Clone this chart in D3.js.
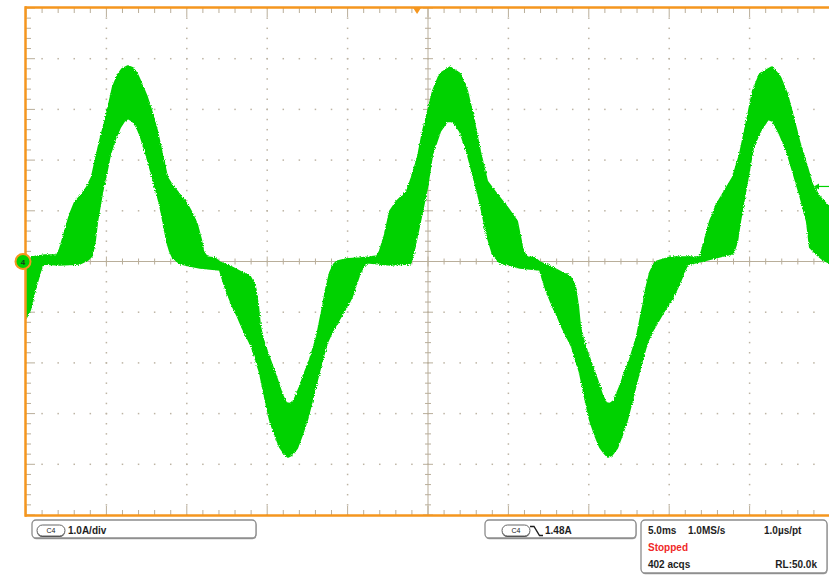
<!DOCTYPE html>
<html>
<head>
<meta charset="utf-8">
<script src="https://cdn.jsdelivr.net/npm/d3@7"></script>
<style>
    body { margin: 0; background: #ffffff; }
    svg { display: block; font-family: "Liberation Sans", Arial, sans-serif; }
</style>
</head>
<body>
<svg id="scope" width="829" height="575"></svg>
<script>
// impostazioni dell'oscilloscopio
const timePerDiv = 5;      // ms/div
const ampPerDiv = 1;       // A/div
const timeRange = [-25, 25];
const ampRange = [-5, 5];
const triggerTime = -0.68;  // ms, marker arancione in alto
const triggerLevel = 1.48;  // A, freccia verde a destra

// inviluppo della traccia C4 (bordo superiore e inferiore), [ms, A]
const upperEdge = [
    [-25.0, -0.08], [-24.63, 0.08], [-23.82, 0.12], [-23.07, 0.12], [-22.89, 0.24], [-22.57, 0.59],
    [-22.26, 0.93], [-21.95, 1.17], [-21.52, 1.32], [-21.21, 1.46], [-20.90, 1.66], [-20.65, 2.02],
    [-20.40, 2.37], [-19.96, 2.91], [-19.59, 3.44], [-19.28, 3.68], [-19.03, 3.79], [-18.66, 3.85],
    [-18.35, 3.81], [-18.10, 3.70], [-17.79, 3.48], [-17.48, 3.24], [-17.16, 2.92], [-16.85, 2.57],
    [-16.54, 2.11], [-16.23, 1.66], [-15.92, 1.50], [-15.61, 1.38], [-15.30, 1.26], [-14.99, 1.13],
    [-14.68, 0.95], [-14.37, 0.73], [-14.12, 0.43], [-13.99, 0.20], [-13.74, 0.08], [-13.25, 0.06],
    [-12.94, -0.02], [-12.31, -0.10], [-11.69, -0.20], [-11.07, -0.30], [-10.76, -0.49], [-10.57, -0.89],
    [-10.45, -1.28], [-10.26, -1.54], [-10.01, -1.78], [-9.83, -1.94], [-9.39, -2.33], [-9.08, -2.63],
    [-8.83, -2.79], [-8.58, -2.81], [-8.33, -2.75], [-7.96, -2.47], [-7.65, -2.19], [-7.34, -1.94],
    [-7.09, -1.68], [-6.90, -1.48], [-6.72, -1.19], [-6.53, -0.89], [-6.34, -0.55], [-6.09, -0.22],
    [-5.85, -0.06], [-5.66, 0.00], [-5.16, 0.04], [-4.23, 0.06], [-3.61, 0.08], [-3.17, 0.10],
    [-2.99, 0.20], [-2.67, 0.53], [-2.36, 0.99], [-1.93, 1.19], [-1.31, 1.38], [-1.00, 1.66],
    [-0.62, 2.06], [-0.31, 2.57], [0.00, 2.96], [0.31, 3.36], [0.75, 3.70], [1.37, 3.83],
    [1.99, 3.70], [2.43, 3.36], [2.80, 2.85], [3.23, 2.17], [3.67, 1.58], [4.29, 1.32],
    [4.91, 1.07], [5.53, 0.79], [5.91, 0.20], [6.16, 0.08], [6.65, 0.06], [6.97, -0.02],
    [7.59, -0.10], [8.21, -0.20], [8.83, -0.30], [9.14, -0.49], [9.33, -0.89], [9.45, -1.28],
    [9.64, -1.54], [9.89, -1.78], [10.07, -1.94], [10.51, -2.33], [10.82, -2.63], [11.07, -2.79],
    [11.32, -2.81], [11.57, -2.75], [11.94, -2.47], [12.25, -2.19], [12.56, -1.94], [12.81, -1.68],
    [13.00, -1.48], [13.18, -1.19], [13.37, -0.89], [13.56, -0.55], [13.81, -0.22], [14.05, -0.06],
    [14.24, 0.00], [15.05, 0.08], [16.92, 0.08], [17.10, 0.28], [17.54, 0.79], [17.97, 1.13],
    [18.59, 1.46], [18.97, 1.66], [19.40, 2.11], [19.84, 2.77], [20.21, 3.36], [20.65, 3.70],
    [21.39, 3.83], [21.89, 3.64], [22.33, 3.30], [22.70, 2.85], [23.13, 2.31], [23.57, 1.86],
    [23.88, 1.52], [24.38, 1.26], [24.94, 1.07]
];

const lowerEdge = [
    [-25.0, -1.11], [-24.75, -0.95], [-24.44, -0.55], [-24.13, -0.20], [-23.94, -0.04], [-22.89, -0.06],
    [-21.64, -0.04], [-21.14, 0.04], [-20.90, 0.12], [-20.71, 0.43], [-20.58, 0.79], [-20.40, 1.13],
    [-20.21, 1.46], [-19.96, 1.82], [-19.78, 2.11], [-19.47, 2.41], [-19.15, 2.65], [-18.91, 2.77],
    [-18.66, 2.83], [-18.35, 2.77], [-18.10, 2.65], [-17.91, 2.51], [-17.60, 2.21], [-17.29, 1.86],
    [-16.98, 1.50], [-16.67, 1.13], [-16.42, 0.73], [-16.23, 0.40], [-16.04, 0.20], [-15.86, 0.08],
    [-15.42, -0.04], [-14.80, -0.08], [-14.18, -0.12], [-13.56, -0.14], [-12.94, -0.16], [-12.75, -0.36],
    [-12.62, -0.49], [-12.38, -0.69], [-12.13, -0.89], [-11.82, -1.09], [-11.57, -1.28], [-11.26, -1.48],
    [-10.95, -1.68], [-10.70, -1.94], [-10.45, -2.19], [-10.14, -2.67], [-9.83, -3.12], [-9.51, -3.42],
    [-9.20, -3.66], [-8.96, -3.77], [-8.71, -3.85], [-8.46, -3.81], [-8.15, -3.68], [-7.84, -3.42],
    [-7.52, -3.12], [-7.21, -2.73], [-6.90, -2.33], [-6.59, -1.94], [-6.28, -1.60], [-5.97, -1.38],
    [-5.66, -1.21], [-5.29, -1.01], [-4.98, -0.85], [-4.73, -0.69], [-4.48, -0.45], [-4.23, -0.22],
    [-3.98, -0.08], [-3.79, -0.02], [-2.36, -0.06], [-1.12, -0.04], [-0.93, 0.14], [-0.50, 0.79],
    [-0.06, 1.46], [0.25, 2.11], [0.75, 2.57], [1.18, 2.77], [1.55, 2.77], [1.99, 2.57],
    [2.43, 2.17], [2.80, 1.72], [3.23, 1.19], [3.67, 0.53], [4.04, 0.14], [4.48, -0.02],
    [5.72, -0.12], [6.97, -0.16], [7.15, -0.36], [7.28, -0.49], [7.52, -0.69], [7.77, -0.89],
    [8.08, -1.09], [8.33, -1.28], [8.64, -1.48], [8.96, -1.68], [9.20, -1.94], [9.45, -2.19],
    [9.76, -2.67], [10.07, -3.12], [10.39, -3.42], [10.70, -3.66], [10.95, -3.77], [11.19, -3.85],
    [11.44, -3.81], [11.75, -3.68], [12.06, -3.42], [12.38, -3.12], [12.69, -2.73], [13.00, -2.33],
    [13.31, -1.94], [13.62, -1.60], [13.93, -1.38], [14.24, -1.21], [14.61, -1.01], [14.93, -0.85],
    [15.24, -0.69], [15.55, -0.49], [15.86, -0.26], [16.11, -0.06], [16.92, 0.00], [18.16, 0.10],
    [18.97, 0.16], [19.22, 0.40], [19.40, 0.79], [19.84, 1.58], [20.21, 2.25], [20.65, 2.57],
    [21.14, 2.81], [21.46, 2.77], [21.89, 2.51], [22.33, 2.17], [22.70, 1.78], [23.13, 1.32],
    [23.57, 0.79], [23.76, 0.28], [24.19, 0.14], [24.56, 0.04], [24.94, -0.02]
];

// testi della barra di stato
const channelName = 'C4';
const scaleText = '1.0A/div';
const trigText = '1.48A';
const timebaseTexts = ['5.0ms', '1.0MS/s', '1.0\u00b5s/pt'];
const stateText = 'Stopped';
const acqText = '402 acqs';
const recordText = 'RL:50.0k';

const orange = '#f5961e';
const green = '#00d200';
const gridCol = '#b9ae9a';

const svg = d3.select('#scope');

// area del reticolo
const plot = { left: 26, top: 8, right: 830, bottom: 515 };
const x = d3.scaleLinear().domain(timeRange).range([plot.left, plot.right]);
const y = d3.scaleLinear().domain(ampRange).range([plot.bottom, plot.top]);

const xMajor = d3.range(timeRange[0], timeRange[1] + 0.01, timePerDiv);
const xMinor = d3.range(0, 51).map((i) => timeRange[0] + (i * timePerDiv) / 5);
const yMajor = d3.range(ampRange[0], ampRange[1] + 0.01, ampPerDiv);
const yMinor = d3.range(0, 51).map((i) => ampRange[0] + (i * ampPerDiv) / 5);

svg.append('rect').attr('x', plot.left).attr('y', plot.top)
    .attr('width', plot.right - plot.left).attr('height', plot.bottom - plot.top)
    .attr('fill', '#ffffff');

// ----- GRIGLIA A PUNTINI -----
const dots = svg.append('g').attr('fill', '#bdb4a4');
for (let t of xMajor) {
    if (t === 0 || t === timeRange[0] || t === timeRange[1]) continue;
    for (let a of yMinor) {
        dots.append('rect').attr('x', x(t) - 0.75).attr('y', y(a) - 0.75).attr('width', 1.5).attr('height', 1.5);
    }
}
for (let a of yMajor) {
    if (a === 0 || a === ampRange[0] || a === ampRange[1]) continue;
    for (let t of xMinor) {
        dots.append('rect').attr('x', x(t) - 0.75).attr('y', y(a) - 0.75).attr('width', 1.5).attr('height', 1.5);
    }
}

// ----- ASSI CENTRALI CON TACCHE -----
const axes = svg.append('g').attr('stroke', gridCol).attr('stroke-width', 1);
axes.append('line').attr('x1', plot.left).attr('x2', plot.right).attr('y1', y(0)).attr('y2', y(0));
axes.append('line').attr('x1', x(0)).attr('x2', x(0)).attr('y1', plot.top).attr('y2', plot.bottom);

const isMajorT = (t) => Math.abs(t / timePerDiv - Math.round(t / timePerDiv)) < 1e-6;
const isMajorA = (a) => Math.abs(a / ampPerDiv - Math.round(a / ampPerDiv)) < 1e-6;

axes.selectAll('.tx').data(xMinor).join('line')
    .attr('x1', (d) => x(d)).attr('x2', (d) => x(d))
    .attr('y1', (d) => y(0) - (isMajorT(d) ? 5 : 3))
    .attr('y2', (d) => y(0) + (isMajorT(d) ? 5 : 3));
axes.selectAll('.ty').data(yMinor).join('line')
    .attr('y1', (d) => y(d)).attr('y2', (d) => y(d))
    .attr('x1', (d) => x(0) - (isMajorA(d) ? 5 : 3))
    .attr('x2', (d) => x(0) + (isMajorA(d) ? 5 : 3));

// tacche sul bordo
const edge = svg.append('g').attr('stroke', gridCol).attr('stroke-width', 1);
edge.selectAll('.top').data(xMinor).join('line')
    .attr('x1', (d) => x(d)).attr('x2', (d) => x(d))
    .attr('y1', plot.top).attr('y2', (d) => plot.top + (isMajorT(d) ? 9 : 5));
edge.selectAll('.bot').data(xMinor).join('line')
    .attr('x1', (d) => x(d)).attr('x2', (d) => x(d))
    .attr('y1', plot.bottom).attr('y2', (d) => plot.bottom - (isMajorT(d) ? 9 : 5));
edge.selectAll('.lft').data(yMinor).join('line')
    .attr('y1', (d) => y(d)).attr('y2', (d) => y(d))
    .attr('x1', plot.left).attr('x2', (d) => plot.left + (isMajorA(d) ? 9 : 5));

// ----- TRACCIA -----
const defs = svg.append('defs');
const filt = defs.append('filter').attr('id', 'rough')
    .attr('x', '-5%').attr('y', '-5%').attr('width', '110%').attr('height', '110%');
filt.append('feTurbulence').attr('type', 'fractalNoise').attr('baseFrequency', 0.9)
    .attr('numOctaves', 1).attr('seed', 3).attr('result', 'n');
filt.append('feDisplacementMap').attr('in', 'SourceGraphic').attr('in2', 'n')
    .attr('scale', 3.5).attr('xChannelSelector', 'R').attr('yChannelSelector', 'G');

defs.append('clipPath').attr('id', 'clipPlot').append('rect')
    .attr('x', plot.left).attr('y', plot.top)
    .attr('width', plot.right - plot.left).attr('height', plot.bottom - plot.top);

const outline = upperEdge.concat(lowerEdge.slice().reverse());
const band = d3.line().x((d) => x(d[0])).y((d) => y(d[1]));

svg.append('g').attr('clip-path', 'url(#clipPlot)')
    .append('path')
    .attr('d', band(outline) + 'Z')
    .attr('fill', green)
    .attr('stroke', green)
    .attr('stroke-width', 2.2)
    .attr('stroke-linejoin', 'round')
    .attr('filter', 'url(#rough)');

// ----- CORNICE -----
const frame = svg.append('g').attr('stroke', orange).attr('stroke-width', 2.5).attr('fill', 'none');
frame.append('line').attr('x1', plot.left - 1).attr('x2', 829).attr('y1', plot.top - 0.5).attr('y2', plot.top - 0.5);
frame.append('line').attr('x1', plot.left - 1).attr('x2', 829).attr('y1', plot.bottom + 0.5).attr('y2', plot.bottom + 0.5);
frame.append('line').attr('x1', plot.left - 0.5).attr('x2', plot.left - 0.5).attr('y1', plot.top - 1.7).attr('y2', plot.bottom + 1.7);

// marker di trigger in alto
const tx = x(triggerTime);
svg.append('path')
    .attr('d', `M${tx - 4.5},${plot.top - 1} L${tx + 4.5},${plot.top - 1} L${tx},${plot.top + 6} Z`)
    .attr('fill', orange);

// livello di trigger a destra
const ty = y(triggerLevel);
svg.append('line').attr('x1', 817).attr('x2', 829).attr('y1', ty).attr('y2', ty)
    .attr('stroke', green).attr('stroke-width', 1.2);
svg.append('path')
    .attr('d', `M814,${ty} L819,${ty - 3} L819,${ty + 3} Z`)
    .attr('fill', green);

// marker di massa del canale 4
const gy = y(0);
svg.append('circle').attr('cx', 23).attr('cy', gy).attr('r', 7.5)
    .attr('fill', green).attr('stroke', orange).attr('stroke-width', 2);
svg.append('text').attr('x', 23).attr('y', gy + 3).attr('text-anchor', 'middle')
    .attr('font-size', 8).attr('font-weight', 'bold').attr('fill', '#1a3a1a').text('4');

// ----- BARRA DI STATO -----
function box(x0, y0, w, h) {
    svg.append('rect').attr('x', x0 + 0.5).attr('y', y0 + 1.2).attr('width', w).attr('height', h)
        .attr('rx', 4).attr('fill', '#9a9a9a');
    svg.append('rect').attr('x', x0).attr('y', y0).attr('width', w).attr('height', h)
        .attr('rx', 4).attr('fill', '#ffffff').attr('stroke', '#8c8c8c').attr('stroke-width', 1.3);
}
function pill(x0, y0) {
    svg.append('rect').attr('x', x0).attr('y', y0 + 1).attr('width', 28).attr('height', 11)
        .attr('rx', 5.5).attr('fill', '#555');
    svg.append('rect').attr('x', x0).attr('y', y0).attr('width', 28).attr('height', 11)
        .attr('rx', 5.5).attr('fill', '#ffffff').attr('stroke', '#555').attr('stroke-width', 0.9);
    svg.append('text').attr('x', x0 + 14).attr('y', y0 + 8.2).attr('text-anchor', 'middle')
        .attr('font-size', 7).attr('fill', '#222').text(channelName);
}

const lbl = (xx, yy, txt, col) =>
    svg.append('text').attr('x', xx).attr('y', yy).attr('font-size', 10).attr('font-weight', 'bold')
        .attr('fill', col || '#1e1e1e').text(txt);

box(32, 520, 224, 18);
pill(37, 525);
lbl(68, 534, scaleText);

box(485, 520, 151, 18);
pill(502, 525);
svg.append('path').attr('d', 'M530,526.5 L534,526.5 L539.5,535.5 L543,535.5')
    .attr('fill', 'none').attr('stroke', '#1e1e1e').attr('stroke-width', 1.4);
lbl(545, 534, trigText);

box(641, 520, 186, 53);
lbl(648, 534, timebaseTexts[0]);
lbl(688, 534, timebaseTexts[1]);
lbl(764, 534, timebaseTexts[2]);
lbl(648, 551, stateText, '#f02828');
lbl(648, 568, acqText);
lbl(817, 568, recordText).attr('text-anchor', 'end');
</script>
</body>
</html>
